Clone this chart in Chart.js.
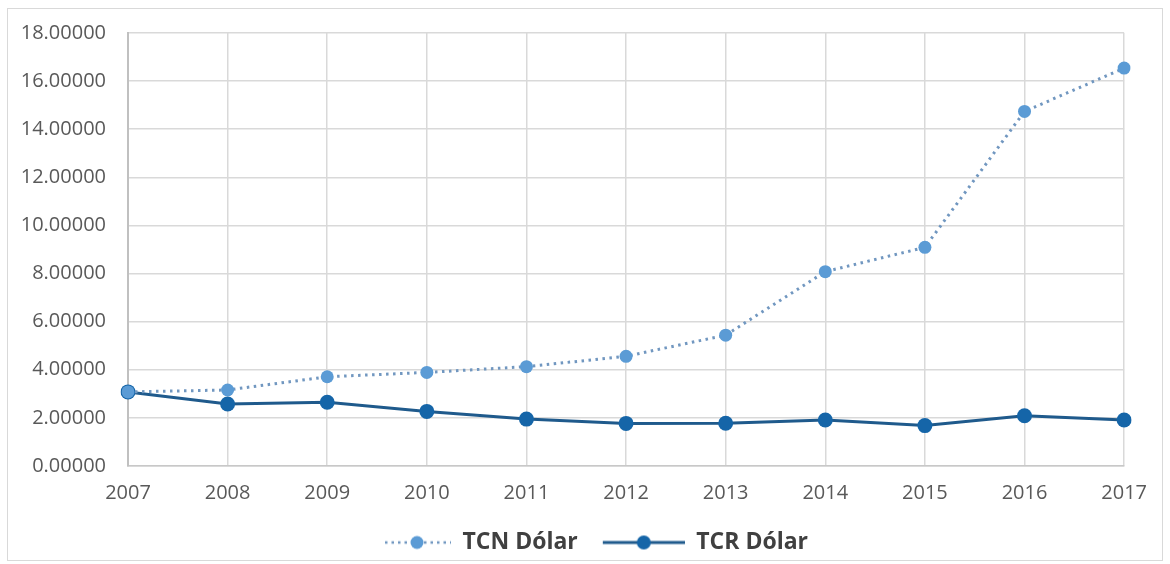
<!DOCTYPE html>
<html>
<head>
<meta charset="utf-8">
<script src="https://cdn.jsdelivr.net/npm/chart.js@4/dist/chart.umd.min.js"></script>
<style>
  html, body { margin: 0; padding: 0; background: #fff; }
  #wrap { position: absolute; left: 7px; top: 8px; width: 1156px; height: 553px; border: 1px solid #d9d9d9; box-sizing: border-box; }
  canvas { display: block; }
</style>
</head>
<body>
<div id="wrap"><canvas id="chart"></canvas></div>
<script>
// datos
const years = ["2007","2008","2009","2010","2011","2012","2013","2014","2015","2016","2017"];
const tcnDolar = [3.08, 3.16, 3.71, 3.89, 4.13, 4.56, 5.44, 8.08, 9.09, 14.74, 16.54];
const tcrDolar = [3.08, 2.58, 2.65, 2.27, 1.95, 1.77, 1.78, 1.91, 1.68, 2.09, 1.91];
const yTicks = [0, 2, 4, 6, 8, 10, 12, 14, 16, 18];

const colTCN = "#5b9bd5";
const colTCNLine = "#7197c0";
const colTCR = "#1565a8";
const colTCRLine = "#1f5a8c";

// ─── icono de leyenda (línea + punto), con hueco transparente a la izquierda ───
function legendIcon(dotted) {
  const c = document.createElement("canvas");
  c.width = 100; c.height = 16;
  const g = c.getContext("2d");
  g.strokeStyle = dotted ? colTCNLine : colTCRLine;
  g.lineWidth = dotted ? 2.5 : 3;
  if (dotted) g.setLineDash([2.5, 4]);
  const x0 = dotted ? 34 : 18;
  g.beginPath(); g.moveTo(x0, 8); g.lineTo(100, 8); g.stroke();
  g.setLineDash([]);
  g.fillStyle = dotted ? colTCN : colTCR;
  g.beginPath(); g.arc(dotted ? 66 : 59, 8, dotted ? 6.5 : 7, 0, Math.PI * 2); g.fill();
  return c;
}

// mover un poco la leyenda (abajo y a la derecha)
const legendShift = {
  id: "legendShift",
  afterLayout(chart) {
    chart.legend.top += 4;
    chart.legend.bottom += 4;
    chart.legend.left += 8;
    chart.legend.right += 8;
  }
};

new Chart(document.getElementById("chart"), {
  type: "line",
  data: {
    labels: years,
    datasets: [
      {
        label: "TCN Dólar",
        data: tcnDolar,
        borderColor: colTCNLine,
        backgroundColor: colTCN,
        borderWidth: 3,
        borderDash: [2.5, 4.5],
        pointRadius: 6.5,
        pointBorderWidth: 0,
        tension: 0
      },
      {
        label: "TCR Dólar",
        data: tcrDolar,
        borderColor: colTCRLine,
        backgroundColor: colTCR,
        borderWidth: 3,
        pointRadius: 7.5,
        pointBorderWidth: 0,
        tension: 0
      }
    ]
  },
  plugins: [legendShift],
  options: {
    responsive: true,
    maintainAspectRatio: false,
    animation: false,
    layout: { padding: { left: 2, right: 29, top: 0, bottom: 0 } },
    plugins: {
      tooltip: { enabled: false },
      legend: {
        position: "bottom",
        labels: {
          usePointStyle: true,
          pointStyleWidth: 100,
          color: "#404040",
          padding: 7,
          font: { family: "Open Sans", size: 23, weight: "bold" },
          generateLabels: chart => chart.data.datasets.map((ds, i) => ({
            text: ds.label,
            datasetIndex: i,
            fontColor: "#404040",
            pointStyle: legendIcon(i === 0)
          }))
        }
      }
    },
    scales: {
      x: {
        offset: false,
        grid: { color: "#d9d9d9", lineWidth: 1.5, drawTicks: false },
        border: { color: "#c8c8c8", width: 1.5 },
        ticks: { color: "#595959", padding: 15, font: { family: "Open Sans", size: 20 } }
      },
      y: {
        min: 0,
        max: 18,
        afterFit: s => { s.width = 118; },
        afterBuildTicks: s => { s.ticks = yTicks.map(v => ({ value: v })); },
        grid: { color: "#d9d9d9", lineWidth: 1.5, drawTicks: true, tickLength: 10, tickColor: "rgba(0,0,0,0)" },
        border: { color: "#c0c0c0", width: 2 },
        ticks: {
          color: "#595959",
          padding: 12,
          font: { family: "Open Sans", size: 20 },
          callback: v => v.toFixed(5)
        }
      }
    }
  }
});
</script>
</body>
</html>
